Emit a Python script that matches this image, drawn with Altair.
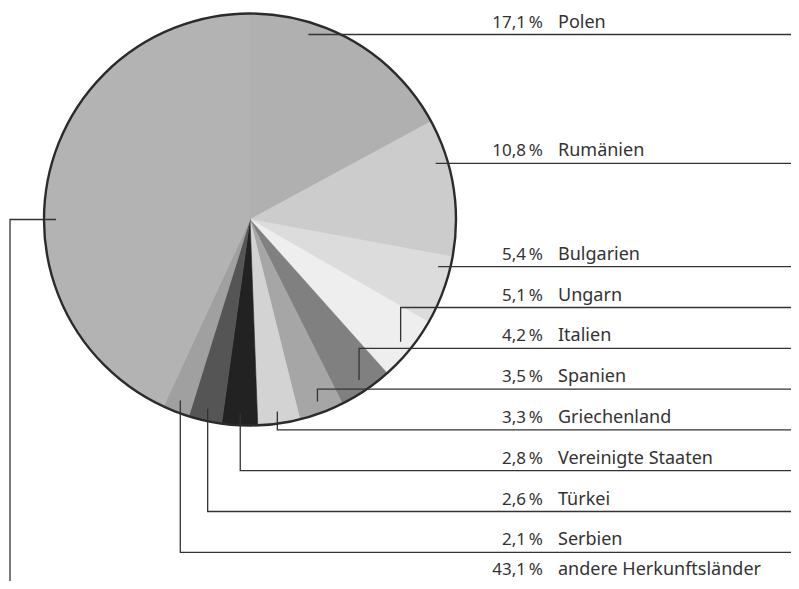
import math
import altair as alt
import pandas as pd

# ---- data ----
countries = ["Polen", "Rumänien", "Bulgarien", "Ungarn", "Italien", "Spanien",
             "Griechenland", "Vereinigte Staaten", "Türkei", "Serbien",
             "andere Herkunftsländer"]
shares = [17.1, 10.8, 5.4, 5.1, 4.2, 3.5, 3.3, 2.8, 2.6, 2.1, 43.1]

# ---- style / layout ----
palette = ["#b0b0b0", "#cccccc", "#dcdcdc", "#eeeeee", "#808080", "#a6a6a6",
           "#d3d3d3", "#222222", "#555555", "#a0a0a0", "#b3b3b3"]
W, H = 783, 573
CX, CY, R = 242, 211.5, 206
RA = 194                      # radius of leader anchors
X_RIGHT, X_LEFT = W, 2
X_PCT, X_NAME = 535, 550
FONT = "Noto Sans"
INK = "#333333"
row_y = [26.5, 155.3] + [258.7 + 40.8 * i for i in range(9)]
text_y = [r - 7 for r in row_y]
text_y[-1] = min(text_y[-1], H - 6)   # keep the last label inside the view

pct_text = [f"{v:.1f}".replace(".", ",") + "\u202f%" for v in shares]

pie_df = pd.DataFrame({"country": countries, "share": shares,
                       "idx": list(range(len(countries)))})
label_df = pd.DataFrame({"country": countries, "pct": pct_text,
                         "x_pct": [X_PCT] * len(countries),
                         "x_name": [X_NAME] * len(countries),
                         "y": text_y})

# leader lines computed from cumulative shares
total = sum(shares)
rows = []
acc = 0.0
for i, (c, v) in enumerate(zip(countries, shares)):
    a0 = acc / total * 2 * math.pi
    acc += v
    a1 = acc / total * 2 * math.pi
    mid = (a0 + a1) / 2
    ry = row_y[i]
    m = 0.03
    if mid > 1.25 * math.pi:  # left side slice
        th = 1.5 * math.pi if a0 + m <= 1.5 * math.pi <= a1 - m else mid
        ax, ay = CX + RA * math.sin(th), CY - RA * math.cos(th)
        pts = [(ax, ay), (X_LEFT, ay), (X_LEFT, H)]
    else:
        cosv = (CY - ry) / RA
        th = math.acos(cosv) if abs(cosv) <= 1 else None
        if th is not None and a0 + m <= th <= a1 - m:
            pts = [(CX + RA * math.sin(th), ry), (X_RIGHT, ry)]
        else:
            ax, ay = CX + RA * math.sin(mid), CY - RA * math.cos(mid)
            pts = [(ax, ay), (ax, ry), (X_RIGHT, ry)]
    for k, (px, py) in enumerate(pts):
        rows.append({"country": c, "step": k, "x": px, "y": py})
lead_df = pd.DataFrame(rows)

xs = alt.Scale(domain=[0, W], nice=False, zero=False)
ys = alt.Scale(domain=[0, H], nice=False, zero=False, reverse=True)
cscale = alt.Scale(domain=countries, range=palette)

pie = alt.Chart(pie_df).mark_arc(radius=R, strokeWidth=0.6).encode(
    theta=alt.Theta("share:Q", stack=True),
    order=alt.Order("idx:Q"),
    color=alt.Color("country:N", scale=cscale, legend=None),
    stroke=alt.Stroke("country:N", scale=cscale, legend=None),
    x=alt.value(CX), y=alt.value(CY),
)

outline = alt.Chart(pd.DataFrame({"v": [1]})).mark_arc(
    radius=R, theta=0, theta2=2 * math.pi, fillOpacity=0,
    stroke="#2b2b2b", strokeWidth=2.4
).encode(x=alt.value(CX), y=alt.value(CY))

leaders = alt.Chart(lead_df).mark_line(
    color=INK, strokeWidth=1.3, strokeCap="butt", strokeJoin="miter"
).encode(
    x=alt.X("x:Q", scale=xs, axis=None),
    y=alt.Y("y:Q", scale=ys, axis=None),
    detail="country:N",
    order="step:Q",
)

pct_labels = alt.Chart(label_df).mark_text(
    align="right", baseline="alphabetic", font=FONT, fontSize=17, color=INK
).encode(x=alt.X("x_pct:Q", scale=xs, axis=None),
         y=alt.Y("y:Q", scale=ys, axis=None), text="pct:N")

name_labels = alt.Chart(label_df).mark_text(
    align="left", baseline="alphabetic", font=FONT, fontSize=18, color=INK
).encode(x=alt.X("x_name:Q", scale=xs, axis=None),
         y=alt.Y("y:Q", scale=ys, axis=None), text="country:N")

chart = alt.layer(pie, outline, leaders, pct_labels, name_labels).properties(
    width=W, height=H, padding=0,
    autosize=alt.AutoSizeParams(type="none"),
).configure_view(stroke=None)

chart.save("out.html", embed_options={"renderer": "svg", "actions": False})
